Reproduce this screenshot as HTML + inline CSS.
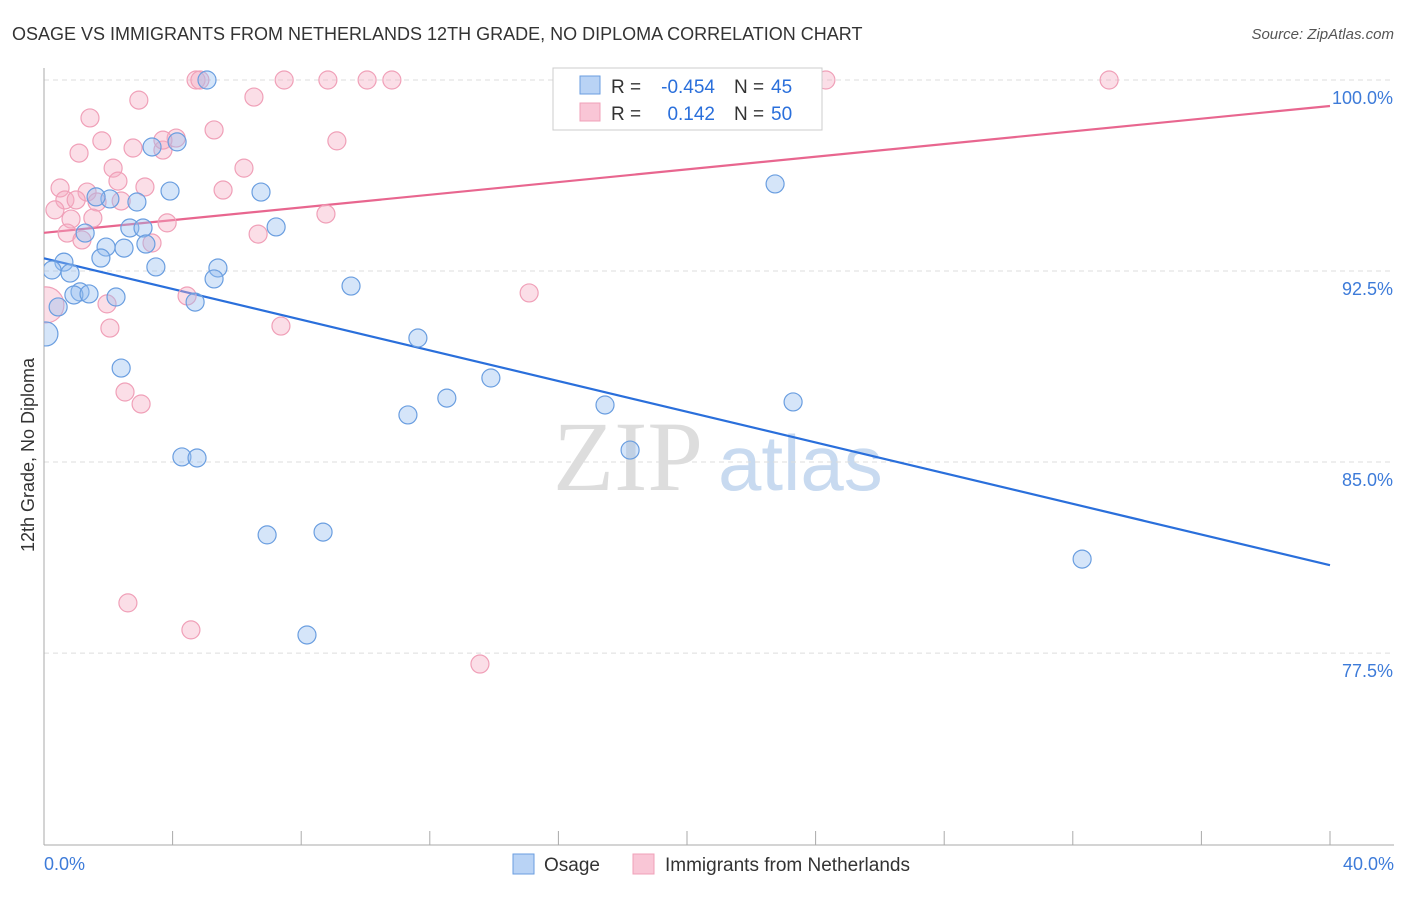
<!DOCTYPE html>
<html><head><meta charset="utf-8"><style>
body{margin:0;background:#fff;font-family:"Liberation Sans",sans-serif;}
svg text{font-family:"Liberation Sans",sans-serif;}
</style></head><body>
<svg id="chart" width="1406" height="892">
<text x="12" y="40" font-size="18" fill="#333">OSAGE VS IMMIGRANTS FROM NETHERLANDS 12TH GRADE, NO DIPLOMA CORRELATION CHART</text>
<text x="1394" y="39" font-size="15" fill="#555" font-style="italic" text-anchor="end">Source: ZipAtlas.com</text>
<text x="34" y="455" font-size="18" fill="#333" text-anchor="middle" transform="rotate(-90 34 455)">12th Grade, No Diploma</text>
<g><text x="553" y="490" font-size="100" fill="#ddd" font-family="Liberation Serif" style="font-family:'Liberation Serif',serif">ZIP</text><text x="718" y="490" font-size="78" fill="#c8daf0">atlas</text></g>
<g id="grid"></g><g id="axes"></g>
<clipPath id="clip"><rect x="44" y="60" width="1362" height="785"/></clipPath>
<g id="marks" clip-path="url(#clip)"></g>
<g>
<rect x="553" y="68" width="269" height="62" fill="#fff" stroke="#ccc"/>
<rect x="580" y="76" width="20" height="18" fill="#b9d3f5" stroke="#6a9ee0"/>
<rect x="580" y="103" width="20" height="18" fill="#f9c6d6" stroke="#f0a0b8"/>
<text x="611" y="93" font-size="19" fill="#333">R =</text>
<text x="715" y="93" font-size="19" fill="#2a6fdb" text-anchor="end">-0.454</text>
<text x="734" y="93" font-size="19" fill="#333">N =</text>
<text x="771" y="93" font-size="19" fill="#2a6fdb">45</text>
<text x="611" y="120" font-size="19" fill="#333">R =</text>
<text x="715" y="120" font-size="19" fill="#2a6fdb" text-anchor="end">0.142</text>
<text x="734" y="120" font-size="19" fill="#333">N =</text>
<text x="771" y="120" font-size="19" fill="#2a6fdb">50</text>
</g>
<g>
<rect x="513" y="854" width="21" height="20" fill="#b9d3f5" stroke="#6a9ee0"/>
<text x="544" y="871" font-size="19" fill="#333">Osage</text>
<rect x="633" y="854" width="21" height="20" fill="#f9c6d6" stroke="#f0a0b8"/>
<text x="665" y="871" font-size="19" fill="#333">Immigrants from Netherlands</text>
</g>
</svg>
<script>
const blueX=[5.07,3.36,4.14,3.92,6.75,2.05,1.62,2.89,2.67,3.08,7.22,1.28,1.93,2.49,3.17,1.77,0.62,0.25,0.81,3.48,5.41,5.29,1.12,0.93,1.40,2.24,4.70,0.44,9.55,0.06,11.63,2.40,13.90,12.53,11.32,17.45,23.30,18.23,4.29,4.76,22.74,6.94,8.68,8.18,32.29];
const blueY=[100,97.37,97.57,95.64,95.60,95.33,95.41,95.21,94.19,94.19,94.23,93.99,93.44,93.40,93.56,93.01,92.85,92.54,92.42,92.66,92.62,92.19,91.68,91.56,91.60,91.48,91.28,91.09,91.91,90.03,89.87,88.69,88.30,87.51,86.85,87.24,87.36,85.47,85.20,85.16,95.92,82.14,82.25,78.21,81.19];
const pinkX=[4.73,4.85,7.47,8.83,10.05,10.82,24.32,33.13,2.95,6.53,1.43,5.29,9.11,1.80,4.11,1.09,2.77,3.70,2.15,6.22,2.30,0.50,1.34,3.14,5.57,0.65,1.00,1.65,2.40,0.34,1.52,0.84,8.77,3.83,0.72,1.18,6.66,3.36,4.45,1.96,2.05,7.37,15.09,0.06,2.52,3.02,2.61,4.57,13.56,3.70];
const pinkY=[100,100,100,100,100,100,100,100,99.21,99.33,98.51,98.04,97.61,97.61,97.72,97.13,97.33,97.25,96.54,96.54,96.03,95.76,95.60,95.80,95.68,95.29,95.29,95.21,95.25,94.90,94.58,94.54,94.74,94.39,93.99,93.72,93.95,93.60,91.52,91.21,90.26,90.34,91.64,91.17,87.75,87.28,79.47,78.41,77.07,97.64];
const blueTrend=[93.0,80.95];
const pinkTrend=[94.0,98.98];
const yTicks=[100,92.5,85,77.5];
const yTickLabels=["100.0%","92.5%","85.0%","77.5%"];
const NS="http://www.w3.org/2000/svg";
const xs=v=>44+v*32.15, ys=v=>80+(100-v)*25.47;
function mk(t,a,p){const e=document.createElementNS(NS,t);for(const k in a)e.setAttribute(k,a[k]);p.appendChild(e);return e;}
const grid=document.getElementById('grid'),axes=document.getElementById('axes'),marks=document.getElementById('marks');
yTicks.forEach((v,i)=>{
 const l=mk('line',{x1:44,x2:1394,y1:ys(v),y2:ys(v),stroke:'#ddd','stroke-dasharray':'5,4'},grid);
 
 
 const t=mk('text',{x:1393,y:ys(v)+24,'font-size':18,fill:'#3d7bd9','text-anchor':'end'},axes);
 t.textContent=yTickLabels[i];
 
 
});
mk('line',{x1:44,x2:44,y1:68,y2:845,stroke:'#aaa'},axes);
mk('line',{x1:44,x2:1394,y1:845,y2:845,stroke:'#aaa'},axes);
for(let i=0;i<=10;i++){const tk=mk('line',{x1:xs(i*4),x2:xs(i*4),y1:831,y2:845,stroke:'#aaa'},axes);
 
 }
const x0=mk('text',{x:44,y:870,'font-size':18,fill:'#3d7bd9'},axes);x0.textContent='0.0%';


const x1=mk('text',{x:1394,y:870,'font-size':18,fill:'#3d7bd9','text-anchor':'end'},axes);x1.textContent='40.0%';


function pts(X,Y,fill,stroke,name,bigIdx,bigR){X.forEach((x,i)=>{
 const c=mk('circle',{cx:xs(x),cy:ys(Y[i]),r:i===bigIdx?bigR:9,fill:fill,stroke:stroke,'stroke-width':1.2},marks);
 
 });}
pts(pinkX,pinkY,'rgba(246,172,196,0.4)','#f0a0b8','netherlands-point',43,18);
pts(blueX,blueY,'rgba(150,190,240,0.4)','#6a9ee0','osage-point',29,12);
const bl=mk('line',{x1:xs(0),y1:ys(blueTrend[0]),x2:xs(40),y2:ys(blueTrend[1]),stroke:'#2a6fdb','stroke-width':2.2},axes);


const pl=mk('line',{x1:xs(0),y1:ys(pinkTrend[0]),x2:xs(40),y2:ys(pinkTrend[1]),stroke:'#e8668f','stroke-width':2.2},axes);


</script>
</body></html>
